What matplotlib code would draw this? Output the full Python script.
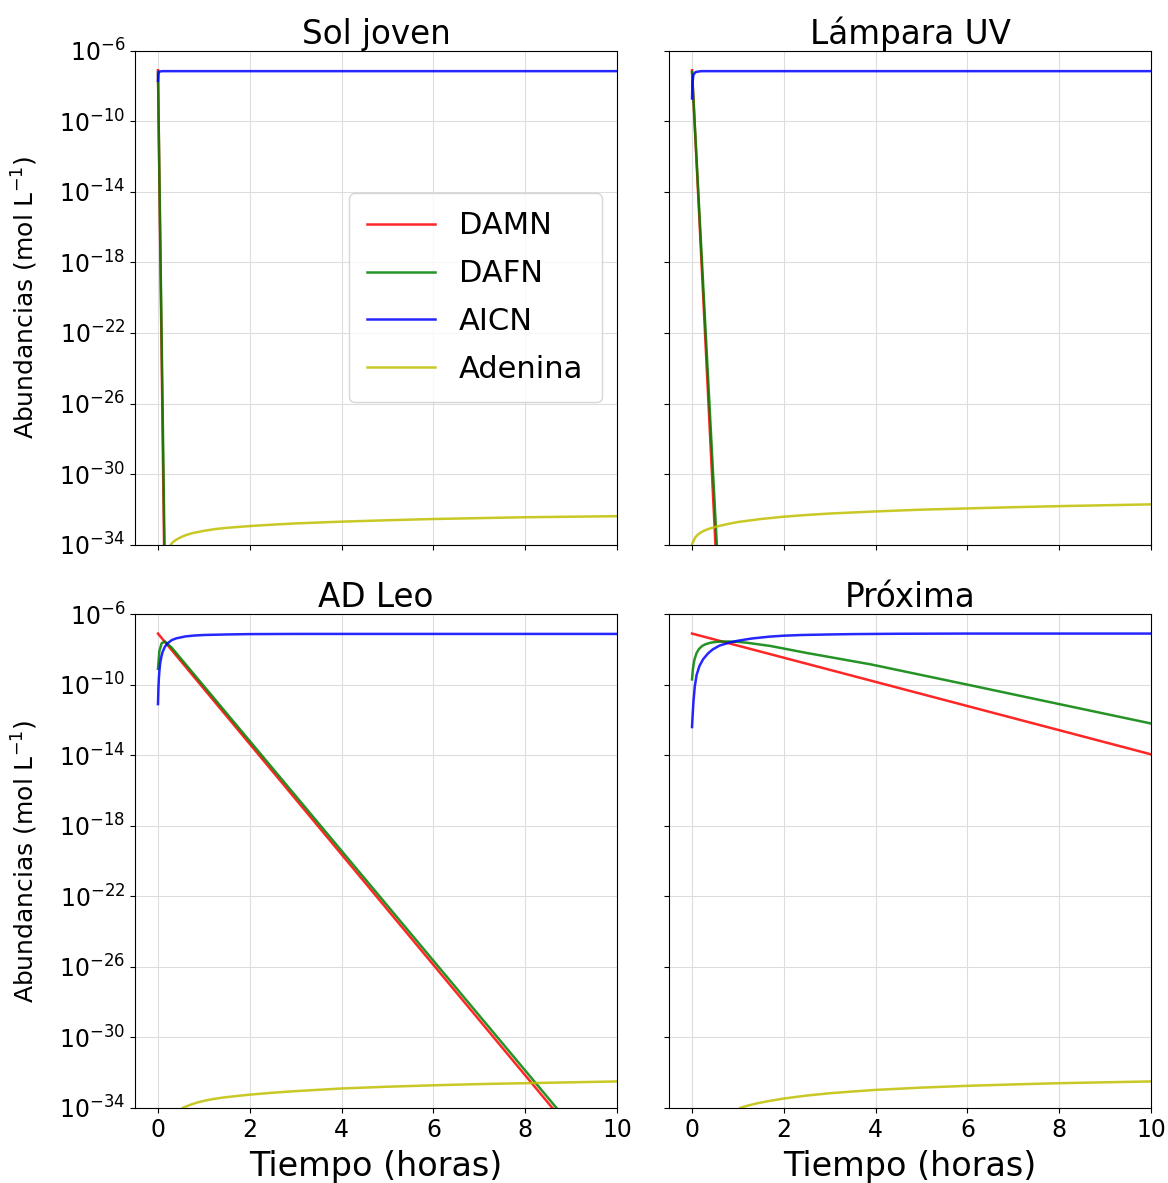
import numpy as np
import matplotlib.pyplot as plt

# panel titles and species
titles = ["Sol joven", "Lámpara UV", "AD Leo", "Próxima"]
species = ["DAMN", "DAFN", "AICN", "Adenina"]
colors = ["r", "g", "b", "y"]

# values: time (h) and log10 abundance (mol/L)
# Sol joven
sol_damn_t = [0, 0.135]
sol_damn_l = [-7.1, -34.5]
sol_dafn_t = [0, 0.145]
sol_dafn_l = [-7.2, -34.5]
sol_aicn_t = [0, 0.01, 0.03, 0.1, 10]
sol_aicn_l = [-7.7, -7.3, -7.17, -7.15, -7.15]
sol_aden_t = [0.28, 0.33, 0.4, 0.5, 0.6, 0.75, 1, 1.25, 1.5, 2, 2.5, 3, 4, 5, 6, 7, 8, 9, 10]
sol_aden_l = [-34.0, -33.85, -33.72, -33.58, -33.47, -33.35, -33.22, -33.12, -33.05, -32.95, -32.87,
              -32.8, -32.7, -32.62, -32.55, -32.5, -32.45, -32.42, -32.39]

# Lámpara UV
uv_damn_t = [0, 0.52]
uv_damn_l = [-7.1, -34.5]
uv_dafn_t = [0, 0.55]
uv_dafn_l = [-7.2, -34.5]
uv_aicn_t = [0, 0.01, 0.03, 0.08, 0.2, 10]
uv_aicn_l = [-8.7, -7.8, -7.35, -7.2, -7.15, -7.15]
uv_aden_t = [0.0, 0.03, 0.07, 0.12, 0.2, 0.3, 0.4, 0.5, 0.75, 1, 1.5, 2, 2.5, 3, 4, 5, 6, 7, 8, 9, 10]
uv_aden_l = [-34.0, -33.8, -33.6, -33.45, -33.3, -33.17, -33.08, -33.0, -32.85, -32.72, -32.55, -32.42,
             -32.32, -32.24, -32.12, -32.02, -31.95, -31.88, -31.82, -31.77, -31.72]

# AD Leo
leo_damn_t = [0, 8.59]
leo_damn_l = [-7.1, -34.0]
leo_dafn_t = [0, 0.03, 0.08, 0.15, 0.3, 8.68]
leo_dafn_l = [-9.1, -8.1, -7.65, -7.55, -7.9, -34.0]
leo_aicn_t = [0, 0.01, 0.02, 0.035, 0.05, 0.075, 0.1, 0.15, 0.2, 0.3, 0.4, 0.6, 0.8, 1, 1.5, 2, 3, 10]
leo_aicn_l = [-11.1, -10.2, -9.6, -9.1, -8.75, -8.4, -8.15, -7.85, -7.67, -7.47, -7.37, -7.26, -7.21,
              -7.18, -7.15, -7.13, -7.12, -7.12]
leo_aden_t = [0.54, 0.6, 0.7, 0.85, 1, 1.2, 1.4, 1.7, 2, 2.5, 3, 4, 5, 6, 7, 8, 9, 10]
leo_aden_l = [-34.0, -33.93, -33.83, -33.7, -33.6, -33.5, -33.42, -33.33, -33.25, -33.14, -33.05,
              -32.9, -32.8, -32.72, -32.65, -32.6, -32.55, -32.5]

# Próxima
prox_damn_t = [0, 10]
prox_damn_l = [-7.1, -13.95]
prox_dafn_t = [0, 0.02, 0.05, 0.1, 0.15, 0.22, 0.3, 0.4, 0.5, 0.65, 0.8, 1.0, 1.2, 1.7, 2.5, 3.9, 6.06, 8, 10]
prox_dafn_l = [-9.7, -9.1, -8.6, -8.2, -7.98, -7.8, -7.7, -7.62, -7.58, -7.55, -7.55, -7.57, -7.62,
               -7.8, -8.2, -8.85, -10.03, -11.1, -12.2]
prox_aicn_t = [0, 0.01, 0.03, 0.06, 0.1, 0.16, 0.24, 0.35, 0.45, 0.6, 0.8, 0.97, 1.3, 1.7, 2.0, 2.4,
               3.0, 3.5, 4.5, 6, 10]
prox_aicn_l = [-12.4, -11.9, -11.0, -10.1, -9.45, -8.95, -8.56, -8.22, -8.0, -7.78, -7.62, -7.52,
               -7.38, -7.27, -7.22, -7.18, -7.15, -7.13, -7.11, -7.1, -7.1]
prox_aden_t = [1.05, 1.2, 1.4, 1.7, 2, 2.5, 3, 3.5, 4, 5, 6, 7, 8, 9, 10]
prox_aden_l = [-34.0, -33.88, -33.75, -33.6, -33.47, -33.3, -33.17, -33.07, -32.98, -32.85, -32.75,
               -32.67, -32.6, -32.55, -32.5]

panels = [
    [(sol_damn_t, sol_damn_l), (sol_dafn_t, sol_dafn_l), (sol_aicn_t, sol_aicn_l), (sol_aden_t, sol_aden_l)],
    [(uv_damn_t, uv_damn_l), (uv_dafn_t, uv_dafn_l), (uv_aicn_t, uv_aicn_l), (uv_aden_t, uv_aden_l)],
    [(leo_damn_t, leo_damn_l), (leo_dafn_t, leo_dafn_l), (leo_aicn_t, leo_aicn_l), (leo_aden_t, leo_aden_l)],
    [(prox_damn_t, prox_damn_l), (prox_dafn_t, prox_dafn_l), (prox_aicn_t, prox_aicn_l), (prox_aden_t, prox_aden_l)],
]

fig, axs = plt.subplots(2, 2, figsize=(11.68, 11.83), dpi=100, sharex=True, sharey=True)
fig.subplots_adjust(left=0.1156, right=0.9855, top=0.957, bottom=0.0635, wspace=0.108, hspace=0.141)

for k, ax in enumerate(axs.flat):
    for j, (t, l) in enumerate(panels[k]):
        ax.plot(t, 10.0 ** np.array(l), color=colors[j], label=species[j], linewidth=1.8, alpha=0.85)
    ax.set_yscale("log")
    ax.set_title(titles[k], fontsize=23.5, pad=4)
    ax.grid(True, color="#dddddd", linewidth=0.8)
    ax.tick_params(labelsize=17)

axs[0, 0].set_ylim(1e-34, 1e-6)
axs[0, 0].set_xlim(-0.5, 10)
axs[0, 0].set_yticks([10.0 ** e for e in range(-34, -5, 4)])
for ax in axs.flat:
    ax.minorticks_off()

for ax in axs[:, 0]:
    ax.set_ylabel(r"Abundancias (mol L$^{-1}$)", fontsize=18, labelpad=14)
for ax in axs[1, :]:
    ax.set_xlabel("Tiempo (horas)", fontsize=24, labelpad=6)

axs[0, 0].legend(fontsize=22, loc="center right", handlelength=2.2, handletextpad=0.8,
                 labelspacing=0.62, borderpad=0.6)

fig.savefig("out.png")
